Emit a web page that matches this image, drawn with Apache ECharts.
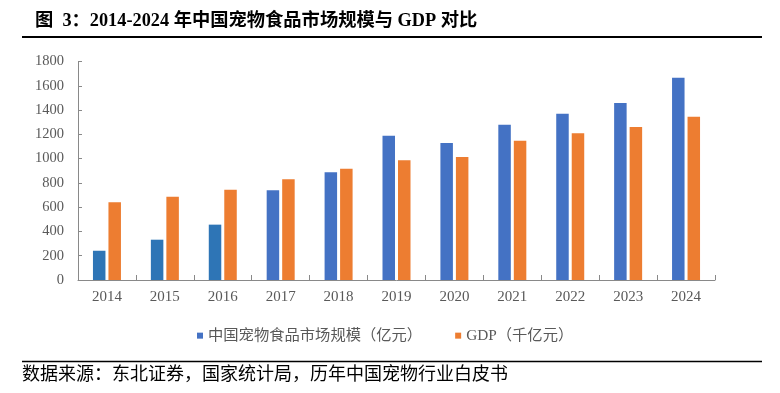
<!DOCTYPE html>
<html>
<head>
<meta charset="utf-8">
<script src="https://cdn.jsdelivr.net/npm/echarts@6/dist/echarts.min.js"></script>
<style>
html,body{margin:0;padding:0;background:#fff;}
#chart{width:780px;height:393px;}
</style>
</head>
<body>
<div id="chart"></div>
<script>
const categories = ['2014','2015','2016','2017','2018','2019','2020','2021','2022','2023','2024'];
const petFoodMarket = [241, 332, 456, 739, 887, 1189, 1129, 1279, 1370, 1458, 1667];
const gdp = [640, 686, 744, 830, 917, 986, 1013, 1148, 1209, 1260, 1345];
const seriesNames = ['中国宠物食品市场规模（亿元）', 'GDP（千亿元）'];
const yTicks = [0, 200, 400, 600, 800, 1000, 1200, 1400, 1600, 1800];
const titleText = '图  3：2014-2024 年中国宠物食品市场规模与 GDP 对比';
const sourceText = '数据来源：东北证券，国家统计局，历年中国宠物行业白皮书';

const serif = '"Liberation Serif", "Noto Sans CJK SC", serif';
const blue = '#4472C4', blueEarly = '#2E75B6', orange = '#ED7D31';

const chart = echarts.init(document.getElementById('chart'), null, {renderer: 'canvas'});
chart.setOption({
  animation: false,
  backgroundColor: '#fff',
  graphic: [
    {type: 'text', left: 35, top: 12, style: {text: titleText, font: 'bold 18.3px ' + serif, fill: '#000'}},
    {type: 'line', shape: {x1: 22, y1: 37, x2: 762, y2: 37}, style: {stroke: '#000', lineWidth: 2}},
    {type: 'line', shape: {x1: 22, y1: 361.5, x2: 762, y2: 361.5}, style: {stroke: '#000', lineWidth: 1.5}},
    {type: 'text', left: 22, top: 366, style: {text: sourceText, font: '18px ' + serif, fill: '#000'}}
  ],
  grid: {left: 78, right: 65, top: 61.5, bottom: 113, containLabel: false},
  legend: {
    left: 192, top: 323, itemWidth: 6, itemHeight: 6, itemGap: 33, icon: 'rect',
    textStyle: {fontSize: 15.3, fontFamily: serif, color: '#595959', padding: [0,0,0,0]},
    data: seriesNames
  },
  xAxis: {
    type: 'category', data: categories,
    axisLine: {lineStyle: {color: '#898989', width: 1}},
    axisTick: {show: true, inside: true, length: 5, lineStyle: {color: '#898989'}},
    axisLabel: {fontSize: 15, fontFamily: serif, color: '#595959', margin: 10}
  },
  yAxis: {
    type: 'value', min: yTicks[0], max: yTicks[yTicks.length-1], interval: yTicks[1]-yTicks[0],
    axisLine: {show: true, lineStyle: {color: '#898989', width: 1}},
    axisTick: {show: true, inside: true, length: 4, lineStyle: {color: '#898989'}},
    splitLine: {show: false},
    axisLabel: {fontSize: 14.5, fontFamily: serif, color: '#595959', margin: 14, formatter: v => String(v)}
  },
  series: [
    {
      name: seriesNames[0], type: 'bar', barWidth: 12.5, barGap: '24%',
      itemStyle: {color: blue},
      data: petFoodMarket.map((v, i) => i < 3 ? {value: v, itemStyle: {color: blueEarly}} : v)
    },
    {
      name: seriesNames[1], type: 'bar', barWidth: 12.5, barGap: '24%',
      itemStyle: {color: orange},
      data: gdp
    }
  ]
});
</script>
</body>
</html>
